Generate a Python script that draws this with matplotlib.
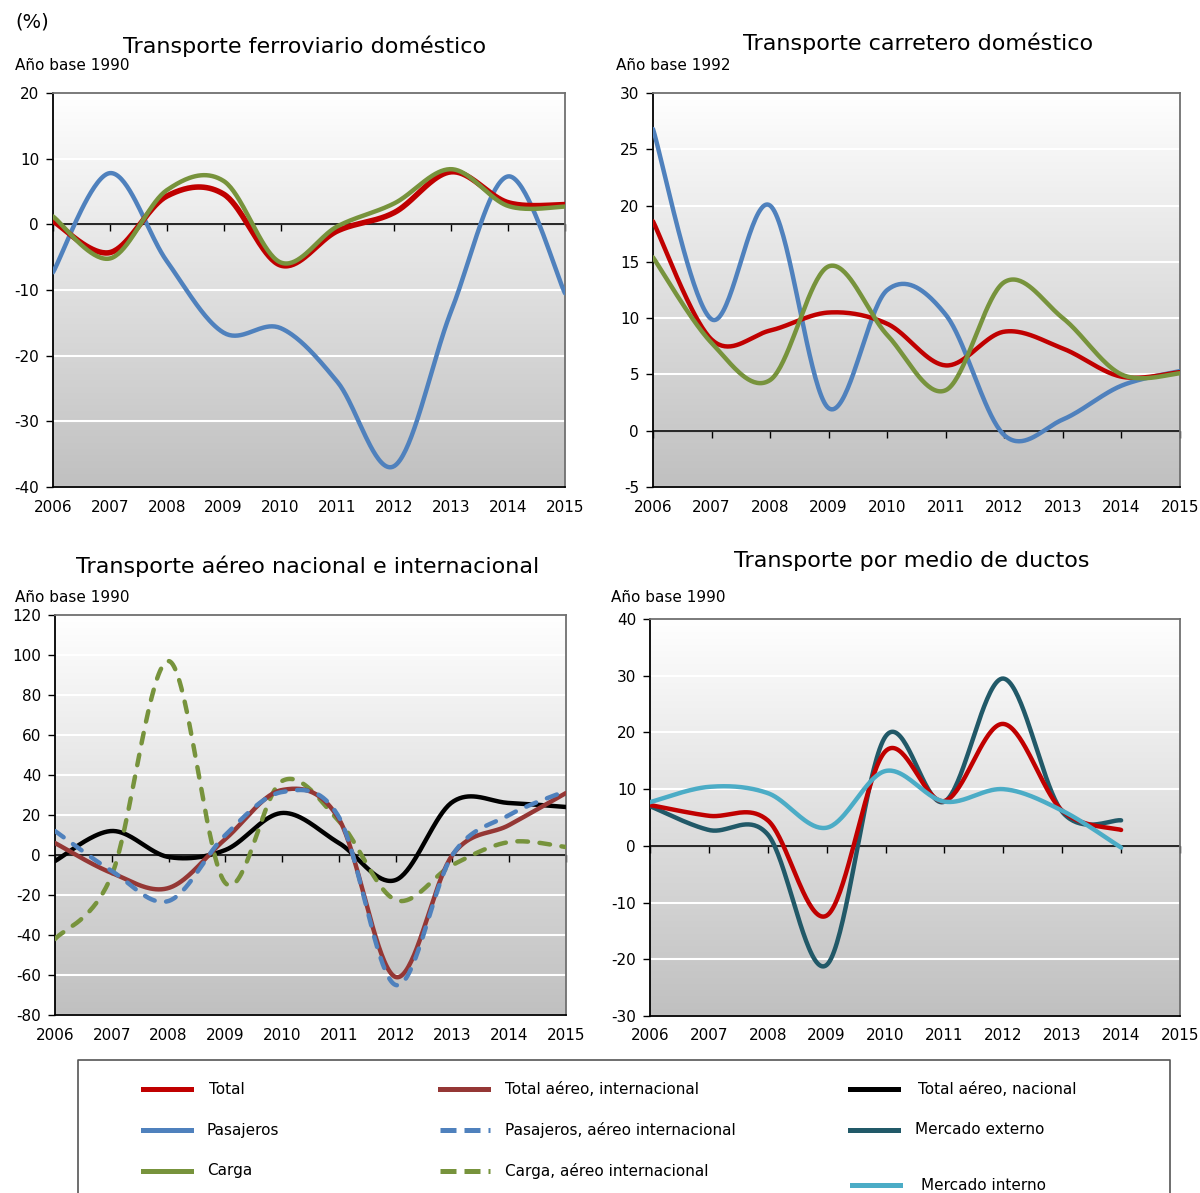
import numpy as np
import matplotlib.pyplot as plt
from matplotlib.lines import Line2D
from matplotlib.colors import LinearSegmentedColormap

plt.rcParams['axes.unicode_minus'] = False

# ---- data (annual growth, %) ----
years = [2006, 2007, 2008, 2009, 2010, 2011, 2012, 2013, 2014, 2015]
years_ductos = [2006, 2007, 2008, 2009, 2010, 2011, 2012, 2013, 2014]

# Transporte ferroviario domestico
fer_total = [0.5, -4.3, 4.3, 4.6, -6.2, -1.0, 1.8, 8.0, 3.3, 3.0]
fer_pasajeros = [-7.3, 7.8, -5.6, -16.5, -15.8, -24.0, -36.8, -13.2, 7.3, -10.5]
fer_carga = [1.2, -5.2, 5.2, 6.6, -5.8, -0.3, 3.2, 8.4, 2.8, 2.7]

# Transporte carretero domestico
car_total = [18.6, 8.1, 8.9, 10.5, 9.5, 5.8, 8.8, 7.3, 4.8, 5.2]
car_pasajeros = [26.8, 9.9, 20.0, 2.0, 12.5, 10.3, -0.4, 1.0, 4.0, 5.3]
car_carga = [15.4, 7.8, 4.5, 14.6, 8.5, 3.6, 13.2, 10.0, 5.0, 5.1]

# Transporte aereo nacional e internacional
aer_total_int = [6, -9, -16.5, 8, 32.5, 18, -61, 0, 15, 31]
aer_pas_int = [12, -8, -23, 10, 31.5, 19, -65, 0, 20, 32]
aer_carga_int = [-42, -10, 97, -14, 37, 17, -22.5, -5, 6.5, 4]
aer_total_nac = [-3, 12, -1, 2.5, 21, 6, -12.5, 26.5, 26, 24]

# Transporte por medio de ductos
duc_total = [7.2, 5.3, 4.5, -12.3, 16.7, 7.9, 21.5, 6.2, 2.8]
duc_externo = [7.0, 2.8, 2.0, -21.0, 19.3, 7.8, 29.5, 6.0, 4.5]
duc_interno = [7.7, 10.4, 9.3, 3.2, 13.2, 7.8, 10.0, 6.2, -0.3]

RED = '#C00000'
BLUE = '#4F81BD'
GREEN = '#77933C'
BROWN = '#953735'
TEAL = '#215968'
LBLUE = '#4BACC6'

W, H = 1200, 1193
fig = plt.figure(figsize=(W / 100, H / 100), dpi=100)
bg = LinearSegmentedColormap.from_list('bg', ['#C0C0C0', '#FFFFFF'])


def smooth(x, y, n=40):
    # Catmull-Rom curve through the points (like Excel "smoothed line")
    x = np.asarray(x, float)
    y = np.asarray(y, float)
    px = np.concatenate([[x[0]], x, [x[-1]]])
    py = np.concatenate([[y[0]], y, [y[-1]]])
    t = np.linspace(0, 1, n, endpoint=False)
    xs, ys = [], []
    for i in range(1, len(x)):
        for p, out in ((px, xs), (py, ys)):
            p0, p1, p2, p3 = p[i - 1], p[i], p[i + 1], p[i + 2]
            out.append(0.5 * (2 * p1 + (p2 - p0) * t
                              + (2 * p0 - 5 * p1 + 4 * p2 - p3) * t ** 2
                              + (3 * p1 - p0 - 3 * p2 + p3) * t ** 3))
    xs.append([x[-1]])
    ys.append([y[-1]])
    return np.concatenate(xs), np.concatenate(ys)


def ftext(x, y, s, **kw):
    fig.text(x / W, 1 - y / H, s, **kw)


def panel(box, ylo, yhi, step):
    l, t, r, b = box
    ax = fig.add_axes([l / W, 1 - b / H, (r - l) / W, (b - t) / H])
    grad = np.linspace(1, 0, 256).reshape(-1, 1)
    ax.imshow(grad, extent=[2006, 2015, ylo, yhi], aspect='auto', cmap=bg,
              vmin=0, vmax=1, zorder=0, interpolation='bilinear')
    ax.set_xlim(2006, 2015)
    ax.set_ylim(ylo, yhi)
    ax.set_yticks(np.arange(ylo, yhi + 1, step))
    ax.set_xticks(years)
    ax.yaxis.grid(True, color='white', lw=1.5)
    ax.tick_params(axis='y', length=5, width=1, pad=5, labelsize=11)
    ax.tick_params(axis='x', length=0, pad=9, labelsize=11)
    for s in ('left', 'bottom'):
        ax.spines[s].set_color('black')
        ax.spines[s].set_linewidth(1.3)
    for s in ('top', 'right'):
        ax.spines[s].set_color('#707070')
        ax.spines[s].set_linewidth(1.3)
    # category axis crossing at zero, with its tick marks
    ax.axhline(0, color='black', lw=1.2, zorder=2)
    sec = ax.secondary_xaxis((0 - ylo) / (yhi - ylo))
    sec.set_alignment('bottom')
    sec.set_xticks(years)
    sec.tick_params(axis='x', direction='out', length=5, width=1,
                    labelbottom=False, labeltop=False, colors='black')
    return ax


def line(ax, x, y, color, dashed=False, lw=3.2):
    sx, sy = smooth(x, y)
    if dashed:
        ax.plot(sx, sy, color=color, lw=lw, dashes=(2.4, 2.6),
                dash_capstyle='round', zorder=3)
    else:
        ax.plot(sx, sy, color=color, lw=lw, solid_capstyle='round', zorder=3)


# panel 1
ax1 = panel((53, 93, 565, 487), -40, 20, 10)
line(ax1, years, fer_pasajeros, BLUE)
line(ax1, years, fer_total, RED, lw=4)
line(ax1, years, fer_carga, GREEN)

# panel 2
ax2 = panel((653, 93, 1180, 487), -5, 30, 5)
line(ax2, years, car_pasajeros, BLUE)
line(ax2, years, car_total, RED)
line(ax2, years, car_carga, GREEN)

# panel 3
ax3 = panel((55, 615, 566, 1015), -80, 120, 20)
line(ax3, years, aer_total_nac, 'black')
line(ax3, years, aer_carga_int, GREEN, dashed=True)
line(ax3, years, aer_total_int, BROWN)
line(ax3, years, aer_pas_int, BLUE, dashed=True)

# panel 4
ax4 = panel((650, 619, 1180, 1016), -30, 40, 10)
line(ax4, years_ductos, duc_externo, TEAL)
line(ax4, years_ductos, duc_total, RED)
line(ax4, years_ductos, duc_interno, LBLUE)

# titles
ftext(15, 22, '(%)', fontsize=14, va='center')
ftext(305, 46, 'Transporte ferroviario doméstico', fontsize=16, ha='center', va='center')
ftext(918, 43, 'Transporte carretero doméstico', fontsize=16, ha='center', va='center')
ftext(308, 566, 'Transporte aéreo nacional e internacional', fontsize=16, ha='center', va='center')
ftext(912, 561, 'Transporte por medio de ductos', fontsize=16, ha='center', va='center')
ftext(15, 66, 'Año base 1990', fontsize=11, va='center')
ftext(616, 66, 'Año base 1992', fontsize=11, va='center')
ftext(15, 597, 'Año base 1990', fontsize=11, va='center')
ftext(611, 597, 'Año base 1990', fontsize=11, va='center')

# legend box
lg = fig.add_axes([0, 0, 1, 1], zorder=-1)
lg.set_xlim(0, W)
lg.set_ylim(H, 0)
lg.axis('off')
lg.plot([78, 78, 1170, 1170], [H + 5, 1060, 1060, H + 5], color='#555555', lw=1.2)

entries = [
    ('Total', RED, False, 143, 209, 1089),
    ('Pasajeros', BLUE, False, 143, 206, 1130),
    ('Carga', GREEN, False, 143, 207, 1171),
    ('Total aéreo, internacional', BROWN, False, 440, 505, 1089),
    ('Pasajeros, aéreo internacional', BLUE, True, 440, 505, 1130),
    ('Carga, aéreo internacional', GREEN, True, 440, 505, 1171),
    ('Total aéreo, nacional', 'black', False, 850, 918, 1089),
    ('Mercado externo', TEAL, False, 850, 915, 1130),
    ('Mercado interno', LBLUE, False, 852, 921, 1185),
]
for label, color, dashed, x0, xt, y in entries:
    if dashed:
        lg.add_line(Line2D([x0, x0 + 50], [y, y], color=color, lw=3.6,
                           dashes=(3.2, 1.6)))
    else:
        lg.add_line(Line2D([x0, x0 + 48], [y, y], color=color, lw=3.6))
    lg.text(xt, y, label, fontsize=11, va='center')

fig.savefig('out.png', dpi=100)
